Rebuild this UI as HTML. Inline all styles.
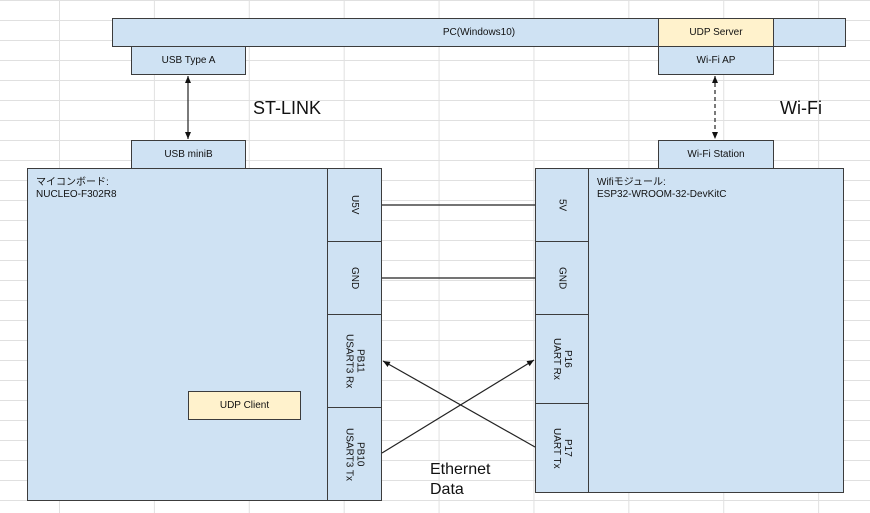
<!DOCTYPE html>
<html><head><meta charset="utf-8"><style>
body{margin:0;width:870px;height:513px;overflow:hidden;background:#fff;font-family:"Liberation Sans","Noto Sans CJK JP",sans-serif;}
.g{position:absolute;left:0;top:0;width:870px;height:513px;
background-image:linear-gradient(to right,#e0e0e0 1px,transparent 1px),linear-gradient(to bottom,#e0e0e0 1px,transparent 1px);
background-size:94.9px 20px;background-position:59px 0,0 0;}
.b{position:absolute;box-sizing:border-box;background:#cfe2f3;border:1px solid #3c3c3c;font-size:10px;color:#111;display:flex;align-items:center;justify-content:center;}
.y{background:#fff2cc;}
.v{writing-mode:vertical-rl;text-align:center;line-height:11px;}
.t{position:absolute;font-size:18px;color:#111;}
</style></head><body>
<div class="g"></div>
<div class="b" style="left:112px;top:18px;width:734px;height:29px">PC(Windows10)</div>
<div class="b y" style="left:658px;top:18px;width:116px;height:29px">UDP Server</div>
<div class="b" style="left:131px;top:46px;width:115px;height:29px">USB Type A</div>
<div class="b" style="left:658px;top:46px;width:116px;height:29px">Wi-Fi AP</div>
<div class="b" style="left:131px;top:140px;width:115px;height:29px">USB miniB</div>
<div class="b" style="left:658px;top:140px;width:116px;height:29px">Wi-Fi Station</div>
<div class="b" style="left:27px;top:168px;width:355px;height:333px;align-items:flex-start;justify-content:flex-start;padding:8px 0 0 8px;line-height:12px">マイコンボード:<br>NUCLEO-F302R8</div>
<div class="b v" style="left:327px;top:168px;width:55px;height:74px">U5V</div>
<div class="b v" style="left:327px;top:241px;width:55px;height:74px">GND</div>
<div class="b v" style="left:327px;top:314px;width:55px;height:94px">PB11<br>USART3 Rx</div>
<div class="b v" style="left:327px;top:407px;width:55px;height:94px">PB10<br>USART3 Tx</div>
<div class="b y" style="left:188px;top:391px;width:113px;height:29px">UDP Client</div>
<div class="b" style="left:535px;top:168px;width:309px;height:325px;align-items:flex-start;justify-content:flex-start;padding:8px 0 0 61px;line-height:12px">Wifiモジュール:<br>ESP32-WROOM-32-DevKitC</div>
<div class="b v" style="left:535px;top:168px;width:54px;height:74px">5V</div>
<div class="b v" style="left:535px;top:241px;width:54px;height:74px">GND</div>
<div class="b v" style="left:535px;top:314px;width:54px;height:90px">P16<br>UART Rx</div>
<div class="b v" style="left:535px;top:403px;width:54px;height:90px">P17<br>UART Tx</div>
<svg style="position:absolute;left:0;top:0" width="870" height="513">
<defs><marker id="a" markerWidth="8" markerHeight="8" refX="7" refY="4" orient="auto-start-reverse" markerUnits="userSpaceOnUse"><path d="M0,1 L7,4 L0,7z" fill="#111"/></marker></defs>
<g stroke="#222" stroke-width="1.2" fill="none">
<line x1="188" y1="76" x2="188" y2="139" marker-start="url(#a)" marker-end="url(#a)"/>
<line x1="715" y1="76" x2="715" y2="139" stroke-dasharray="4,3" marker-start="url(#a)" marker-end="url(#a)"/>
<line x1="382" y1="205" x2="535" y2="205"/>
<line x1="382" y1="278" x2="535" y2="278"/>
<line x1="382" y1="453" x2="534" y2="360" marker-end="url(#a)"/>
<line x1="535" y1="447" x2="383" y2="361" marker-end="url(#a)"/>
</g></svg>
<div class="t" style="left:253px;top:98px">ST-LINK</div>
<div class="t" style="left:780px;top:98px">Wi-Fi</div>
<div class="t" style="left:430px;top:460px;font-size:16px;line-height:20px">Ethernet<br>Data</div>
</body></html>
